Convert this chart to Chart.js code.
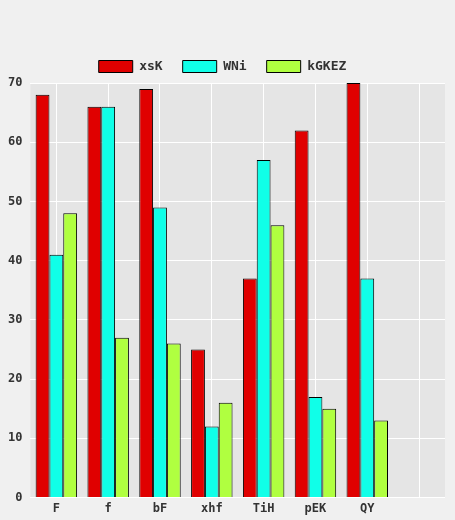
<!DOCTYPE html><html><head><script src="https://cdn.jsdelivr.net/npm/chart.js"></script>
<style>html,body{margin:0;background:#f0f0f0}#w{width:455px;height:520px}</style></head><body><div id="w"><canvas id="c"></canvas></div>
<script>
const categories=["F","f","bF","xhf","TiH","pEK","QY",""];
const xsK=[68,66,69,25,37,62,70,null];
const WNi=[41,66,49,12,57,17,37,null];
const kGKEZ=[48,27,26,16,46,15,13,null];
const yTicks=[0,10,20,30,40,50,60,70];
const bg={id:'bg',beforeDraw(ch){const a=ch.chartArea,x=ch.ctx;x.save();x.fillStyle='#e5e5e5';x.fillRect(a.left,a.top,a.right-a.left,a.bottom-a.top);x.restore();}};
Chart.defaults.font.family="DejaVu Sans Mono";Chart.defaults.font.weight="bold";Chart.defaults.color="#333";
new Chart(document.getElementById('c'),{type:'bar',plugins:[bg],data:{labels:categories,datasets:[
{label:'xsK',data:xsK,backgroundColor:'#e00000',borderColor:'#000',borderWidth:1},
{label:'WNi',data:WNi,backgroundColor:'#10ffe8',borderColor:'#000',borderWidth:1},
{label:'kGKEZ',data:kGKEZ,backgroundColor:'#b0ff40',borderColor:'#000',borderWidth:1}]},
options:{responsive:true,maintainAspectRatio:false,animation:false,layout:{padding:{top:40,right:10,left:0,bottom:0}},
datasets:{bar:{categoryPercentage:0.8,barPercentage:1}},
plugins:{legend:{labels:{boxWidth:34,boxHeight:12,padding:20,font:{size:13}}},tooltip:{enabled:false}},
scales:{x:{grid:{color:'#fff',lineWidth:1,offset:false,drawTicks:false},border:{display:false},ticks:{padding:4,font:{size:12}}},
y:{min:0,max:70,afterBuildTicks(s){s.ticks=yTicks.map(v=>({value:v}));},grid:{color:'#fff',drawTicks:false},border:{display:false},ticks:{padding:8,font:{size:12}}}}}});
</script></body></html>
